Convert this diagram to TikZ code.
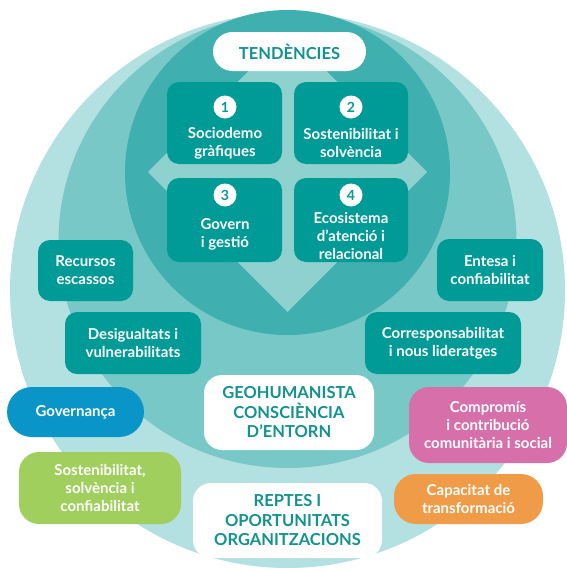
\documentclass[tikz,border=0pt]{standalone}
\usepackage{fontspec}
\setmainfont{Lato}
\definecolor{ringA}{HTML}{B3E0E0}
\definecolor{ringB}{HTML}{77C8C7}
\definecolor{ringC}{HTML}{3FB0AF}
\definecolor{diam}{HTML}{8FD1CF}
\definecolor{boxteal}{HTML}{009A97}
\definecolor{headteal}{HTML}{13938F}
\definecolor{govblue}{HTML}{0A95C9}
\definecolor{pinkc}{HTML}{D770AA}
\definecolor{orangec}{HTML}{F09B48}
\definecolor{greenc}{HTML}{A0CF5D}
\tikzset{
  bodyfont/.style={font=\fontsize{15}{18}\selectfont\bfseries},
  tealbox/.style={fill=boxteal, rounded corners=12pt, inner sep=0pt, text=white, align=center, bodyfont},
  colbox/.style={rounded corners=#1, inner sep=0pt, text=white, align=center, bodyfont},
  whitebox/.style={fill=white, rounded corners=#1, inner sep=0pt, text=headteal, align=center,
     font=\fontsize{16.5}{19.5}\selectfont\bfseries},
  numdot/.style={circle, fill=white, minimum size=23pt, inner sep=0pt, text=boxteal,
     font=\fontsize{14}{14}\selectfont\bfseries},
  boxtext/.style={text=white, align=center, inner sep=0pt, bodyfont},
}
\begin{document}
\begin{tikzpicture}[x=1pt,y=-1pt]
\useasboundingbox (0,0) rectangle (567,570);
\clip (0,0) rectangle (567,570);
% rings
\fill[ringA] (287.5,290.5) circle[radius=277.5];
\fill[ringB] (287.5,241) ellipse[x radius=229, y radius=227];
\fill[ringC] (287.5,172.5) circle[radius=162.5];
% diamond
\fill[diam] (287.5,32) -- (427,172) -- (287.5,312) -- (148,172) -- cycle;
% trend header
\node[whitebox=19.5pt, minimum width=153pt, minimum height=39pt] (tend) at (289.5,51.5) {TENDÈNCIES};
% four trend boxes
\node[tealbox, minimum width=115pt, minimum height=82pt] (b1) at (224.5,123) {};
\node[tealbox, minimum width=114pt, minimum height=82pt] (b2) at (351,123) {};
\node[tealbox, minimum width=115pt, minimum height=84pt] (b3) at (224.5,220) {};
\node[tealbox, minimum width=114pt, minimum height=84pt] (b4) at (351,220) {};
\node[numdot] (n1) at (225,107) {1};
\node[numdot] (n2) at (351,107) {2};
\node[numdot] (n3) at (225,195) {3};
\node[numdot] (n4) at (351,195) {4};
\node[boxtext] (t1) at (225,143) {Sociodemo\\gràfiques};
\node[boxtext] (t2) at (351,143) {Sostenibilitat i\\solvència};
\node[boxtext] (t3) at (225,234) {Govern\\i gestió};
\node[boxtext] (t4) at (351,236) {Ecosistema\\d’atenció i\\relacional};
% side boxes
\node[tealbox, minimum width=95pt, minimum height=61pt] (rec) at (85.5,270.5) {Recursos\\escassos};
\node[tealbox, minimum width=106pt, minimum height=62pt] (ent) at (490,270) {Entesa i\\confiabilitat};
\node[tealbox, minimum width=136pt, minimum height=62pt] (des) at (133,343) {Desigualtats i\\vulnerabilitats};
\node[tealbox, minimum width=156pt, minimum height=62pt] (cor) at (443,343) {Corresponsabilitat\\i nous lideratges};
% centre
\node[whitebox=18pt, minimum width=170pt, minimum height=75pt] (geo) at (289,412.5) {GEOHUMANISTA\\CONSCIÈNCIA\\D’ENTORN};
\node[whitebox=18pt, minimum width=189pt, minimum height=75pt] (rep) at (287.5,520.5) {REPTES I\\OPORTUNITATS\\ORGANITZACIONS};
% coloured boxes
\node[colbox=25pt, fill=govblue, minimum width=137pt, minimum height=50pt] (gov) at (75.5,412) {Governança};
\node[colbox=20pt, fill=pinkc, minimum width=158pt, minimum height=76pt] (com) at (488,425) {Compromís\\i contribució\\comunitària i social};
\node[colbox=22pt, fill=orangec, minimum width=149pt, minimum height=50pt] (cap) at (468.5,499) {Capacitat de\\transformació};
\node[colbox=20pt, fill=greenc, minimum width=162pt, minimum height=72pt] (sos) at (100,488) {Sostenibilitat,\\solvència i\\confiabilitat};
\end{tikzpicture}
\end{document}
